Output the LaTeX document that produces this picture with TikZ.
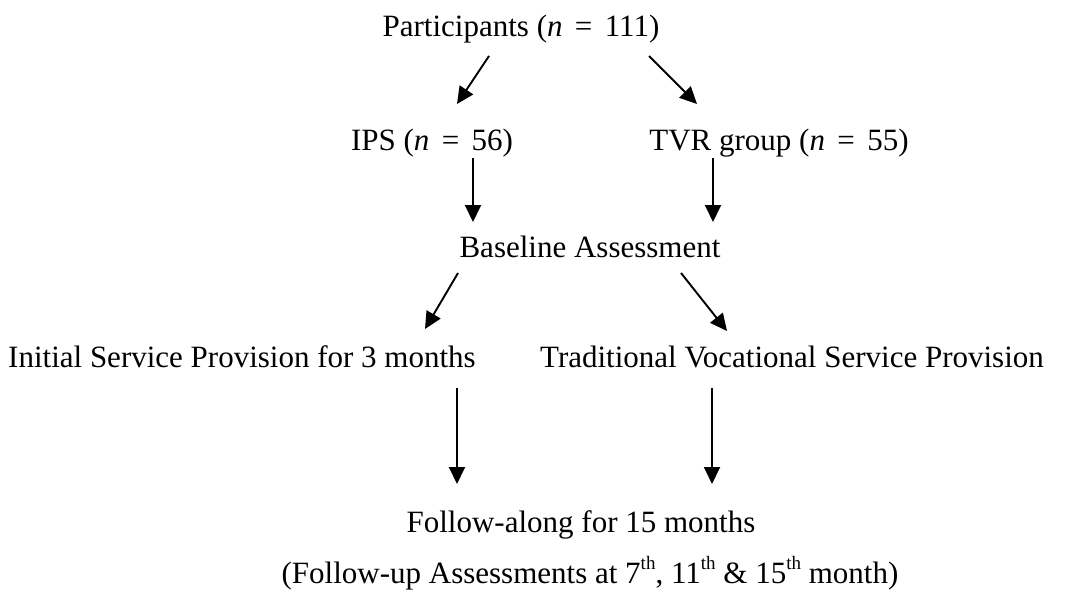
\documentclass[tikz,border=0pt]{standalone}
\usepackage{fontspec}
\setmainfont{Liberation Serif}
\usetikzlibrary{arrows.meta}
\newcommand{\eqsp}{\hspace{0.4em}=\hspace{0.4em}}
\newcommand{\supth}{\raisebox{0.45em}{\fontsize{19}{20}\selectfont th}}
\begin{document}
\begin{tikzpicture}[x=1pt,y=-1pt,
  lbl/.style={inner sep=0pt,anchor=base,font=\fontsize{31}{37}\selectfont},
  arr/.style={line width=1.9pt,-{Triangle[length=17pt,width=16pt]}}]
\useasboundingbox (0,0) rectangle (1071,592);
\node[lbl] (part) at (521,36) {Participants (\textit{n}\eqsp111)};
\node[lbl] (ips) at (432,150) {IPS (\textit{n}\eqsp56)};
\node[lbl] (tvr) at (779,150) {TVR group (\textit{n}\eqsp55)};
\node[lbl] (base) at (590,257) {Baseline Assessment};
\node[lbl,anchor=base west] (init) at (8,367) {Initial Service Provision for 3 months};
\node[lbl] (trad) at (792,367) {Traditional Vocational Service Provision};
\node[lbl] (follow) at (581,532) {Follow-along for 15 months};
\node[lbl] (fup) at (590,583) {(Follow-up Assessments at 7\supth, 11\supth\ \& 15\supth\ month)};
% connector end points
\coordinate (p1) at (489,56);   \coordinate (i1) at (457,104);
\coordinate (p2) at (649,56);   \coordinate (t1) at (697,104);
\coordinate (i2) at (473,158);  \coordinate (b1) at (473,222);
\coordinate (t2) at (713,158);  \coordinate (b2) at (713,222);
\coordinate (b3) at (458,273);  \coordinate (n1) at (425,329);
\coordinate (b4) at (681,273);  \coordinate (r1) at (727,331);
\coordinate (n2) at (457,388);  \coordinate (f1) at (457,484);
\coordinate (r2) at (712,388);  \coordinate (f2) at (712,484);
\draw[arr] (p1) -- (i1);
\draw[arr] (p2) -- (t1);
\draw[arr] (i2) -- (b1);
\draw[arr] (t2) -- (b2);
\draw[arr] (b3) -- (n1);
\draw[arr] (b4) -- (r1);
\draw[arr] (n2) -- (f1);
\draw[arr] (r2) -- (f2);
\end{tikzpicture}
\end{document}
